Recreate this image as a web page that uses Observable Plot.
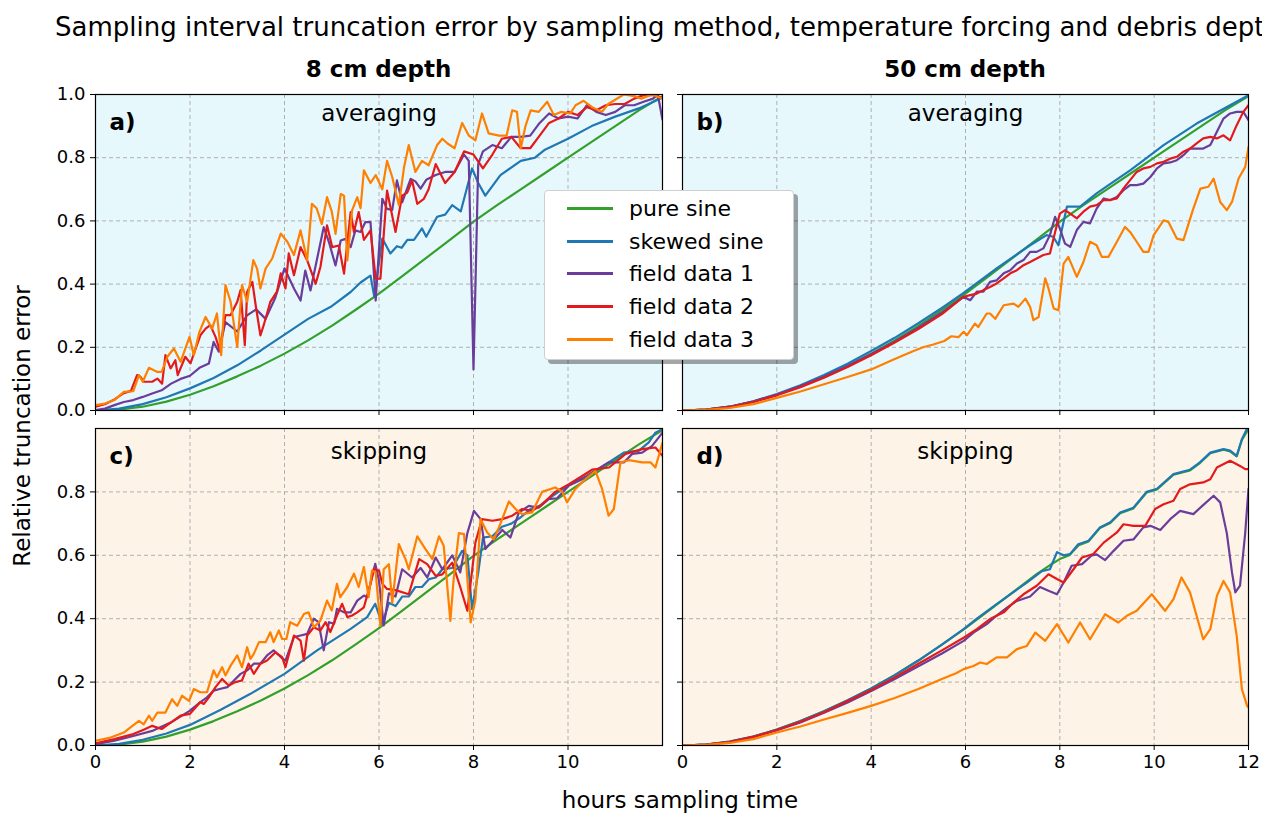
<!DOCTYPE html>
<html>
<head>
<meta charset="utf-8">
<script src="https://cdn.jsdelivr.net/npm/d3@7"></script>
<script src="https://cdn.jsdelivr.net/npm/@observablehq/plot@0.6"></script>
<style>
  html, body { margin: 0; padding: 0; background: #fff; }
  #fig { position: relative; width: 1262px; height: 814px; overflow: hidden; font-family: "DejaVu Sans", sans-serif; color: #000; }
  .abs { position: absolute; line-height: 1; white-space: nowrap; }
  .panel { position: absolute; }
  .panel svg { overflow: visible; }
  #legend { position: absolute; left: 544px; top: 190px; width: 250px; height: 170px; background: #fff;
            border: 1px solid #cfcfcf; border-radius: 4px; box-shadow: 4px 4px 0 rgba(0,0,0,0.35); z-index: 5; box-sizing: border-box; padding-top: 1px; }
  .lrow { display: flex; align-items: center; height: 32.8px; font-size: 22px; }
  .lline { width: 46px; height: 3px; margin-left: 22px; margin-right: 16px; }
</style>
</head>
<body>
<div id="fig"></div>
<script>
// ---------------- data ----------------
const seriesNames = ["pure sine", "skewed sine", "field data 1", "field data 2", "field data 3"];
const seriesColors = ["#33a02c", "#1f78b4", "#6a3d9a", "#e31a1c", "#ff7f00"];
const columnTitles = ["8 cm depth", "50 cm depth"];
const panelLabels = ["a)", "b)", "c)", "d)"];
const methodLabels = ["averaging", "averaging", "skipping", "skipping"];
const xTicksLeft = [0, 2, 4, 6, 8, 10];
const xTicksRight = [0, 2, 4, 6, 8, 10, 12];
const yTicksTop = [0, 0.2, 0.4, 0.6, 0.8, 1.0];
const yTicksBottom = [0, 0.2, 0.4, 0.6, 0.8];

// [hours, relative error]
const pure_sine = [[0,0],[0.5,0.003],[1,0.012],[1.5,0.028],[2,0.05],[2.5,0.077],[3,0.108],[3.5,0.142],[4,0.18],[4.5,0.222],[5,0.268],[5.5,0.318],[6,0.37],[6.5,0.426],[7,0.483],[7.5,0.54],[8,0.598],[8.5,0.65],[9,0.7],[9.5,0.75],[10,0.8],[10.5,0.85],[11,0.9],[11.5,0.95],[12,0.995]];
// in panel d the pure sine runs hidden under the skewed sine beyond ~8.4 h
const d_pure_sine = [[0,0],[0.5,0.003],[1,0.012],[1.5,0.028],[2,0.05],[2.5,0.077],[3,0.108],[3.5,0.142],[4,0.18],[4.5,0.222],[5,0.268],[5.5,0.318],[6,0.37],[6.5,0.426],[7,0.483],[7.5,0.54],[7.8,0.57],[8,0.588],[8.2,0.6],[8.4,0.632],[8.61,0.644],[8.85,0.686],[9.07,0.702],[9.28,0.733],[9.56,0.748],[9.84,0.798],[10.06,0.808],[10.41,0.854],[10.76,0.868],[10.97,0.891],[11.19,0.922],[11.47,0.933],[11.61,0.928],[11.75,0.912],[11.86,0.964],[12,0.998]];

// panel a: 8 cm, averaging
const a_skewed = [[0,0],[0.5,0.006],[1,0.02],[1.5,0.042],[2,0.07],[2.5,0.103],[3,0.143],[3.5,0.19],[4,0.24],[4.5,0.29],[5,0.33],[5.4,0.375],[5.61,0.405],[5.82,0.427],[5.9,0.36],[6.07,0.544],[6.24,0.497],[6.38,0.52],[6.48,0.515],[6.6,0.54],[6.74,0.54],[6.91,0.576],[7.0,0.55],[7.23,0.613],[7.4,0.62],[7.55,0.65],[7.73,0.63],[7.97,0.766],[8.1,0.72],[8.25,0.68],[8.57,0.745],[9,0.79],[9.3,0.8],[9.5,0.824],[10,0.86],[10.5,0.9],[11,0.93],[11.5,0.956],[12,0.99]];
const a_field1 = [[0,0.001],[0.2,0.006],[0.4,0.017],[0.6,0.027],[0.8,0.033],[1.0,0.043],[1.2,0.054],[1.4,0.064],[1.6,0.085],[1.8,0.1],[2.0,0.11],[2.2,0.135],[2.4,0.149],[2.5,0.217],[2.61,0.186],[2.75,0.28],[3.0,0.25],[3.2,0.3],[3.4,0.32],[3.6,0.29],[3.8,0.355],[4.0,0.45],[4.2,0.386],[4.34,0.348],[4.44,0.443],[4.55,0.38],[4.66,0.459],[4.83,0.58],[4.94,0.533],[5.08,0.459],[5.19,0.538],[5.29,0.543],[5.4,0.517],[5.5,0.57],[5.61,0.565],[5.71,0.596],[5.82,0.596],[5.93,0.348],[6.07,0.67],[6.17,0.638],[6.28,0.635],[6.38,0.728],[6.49,0.659],[6.67,0.733],[6.77,0.725],[6.88,0.702],[7.0,0.73],[7.2,0.745],[7.4,0.755],[7.6,0.755],[7.8,0.81],[7.9,0.79],[8.0,0.13],[8.1,0.78],[8.2,0.82],[8.4,0.84],[8.6,0.83],[8.8,0.866],[9.0,0.866],[9.2,0.87],[9.4,0.91],[9.6,0.94],[9.8,0.924],[10.0,0.93],[10.2,0.924],[10.4,0.966],[10.6,0.945],[10.8,0.935],[11.0,0.945],[11.2,0.966],[11.4,0.966],[11.6,0.977],[11.8,0.987],[11.9,1.0],[12,0.92]];
const a_field2 = [[0,0.012],[0.2,0.02],[0.4,0.035],[0.6,0.055],[0.75,0.062],[0.88,0.112],[0.95,0.107],[1.02,0.091],[1.2,0.091],[1.31,0.101],[1.41,0.085],[1.48,0.175],[1.59,0.133],[1.69,0.159],[1.74,0.112],[1.9,0.17],[2.01,0.149],[2.12,0.196],[2.22,0.238],[2.33,0.259],[2.43,0.27],[2.54,0.233],[2.63,0.191],[2.75,0.302],[2.86,0.302],[3.0,0.344],[3.07,0.381],[3.16,0.207],[3.21,0.376],[3.32,0.407],[3.39,0.333],[3.49,0.238],[3.56,0.27],[3.7,0.344],[3.84,0.376],[3.92,0.434],[4.02,0.386],[4.09,0.497],[4.2,0.428],[4.34,0.517],[4.48,0.475],[4.66,0.401],[4.76,0.454],[4.9,0.586],[5.01,0.517],[5.15,0.522],[5.26,0.433],[5.4,0.628],[5.47,0.565],[5.57,0.628],[5.68,0.54],[5.82,0.57],[5.93,0.417],[6.03,0.417],[6.17,0.696],[6.35,0.565],[6.49,0.68],[6.6,0.69],[6.7,0.728],[6.81,0.654],[6.95,0.67],[7.05,0.7],[7.2,0.78],[7.4,0.72],[7.6,0.755],[7.8,0.82],[8.0,0.81],[8.2,0.766],[8.4,0.81],[8.6,0.86],[8.8,0.866],[9.0,0.83],[9.2,0.83],[9.4,0.87],[9.6,0.91],[9.8,0.924],[10.0,0.945],[10.2,0.935],[10.4,0.96],[10.6,0.95],[10.8,0.966],[11.0,0.97],[11.2,0.97],[11.4,0.987],[11.6,0.998],[11.8,0.998],[12,0.99]];
const a_field3 = [[0,0.017],[0.2,0.022],[0.4,0.033],[0.6,0.059],[0.8,0.061],[0.92,0.112],[1.0,0.091],[1.13,0.135],[1.31,0.122],[1.4,0.122],[1.52,0.17],[1.66,0.196],[1.8,0.154],[1.99,0.233],[2.08,0.175],[2.2,0.249],[2.33,0.296],[2.47,0.259],[2.57,0.307],[2.66,0.175],[2.75,0.397],[2.86,0.344],[3.0,0.201],[3.1,0.397],[3.21,0.344],[3.34,0.476],[3.42,0.449],[3.49,0.386],[3.6,0.449],[3.74,0.481],[3.92,0.56],[4.06,0.534],[4.2,0.492],[4.34,0.57],[4.48,0.475],[4.58,0.654],[4.68,0.64],[4.79,0.59],[4.9,0.675],[5.0,0.63],[5.08,0.559],[5.19,0.685],[5.26,0.68],[5.33,0.475],[5.43,0.633],[5.54,0.675],[5.61,0.64],[5.68,0.76],[5.82,0.72],[5.93,0.745],[6.07,0.7],[6.17,0.79],[6.28,0.739],[6.42,0.65],[6.53,0.77],[6.63,0.84],[6.77,0.755],[6.91,0.79],[7.05,0.776],[7.23,0.84],[7.34,0.86],[7.45,0.845],[7.6,0.83],[7.76,0.91],[7.9,0.87],[8.04,0.855],[8.18,0.94],[8.32,0.877],[8.54,0.87],[8.7,0.87],[8.82,0.95],[8.92,0.945],[9.0,0.83],[9.1,0.9],[9.21,0.95],[9.38,0.945],[9.56,0.977],[9.7,0.935],[9.85,0.945],[10.05,0.94],[10.16,0.966],[10.33,0.98],[10.51,0.96],[10.72,0.945],[10.85,0.97],[11.18,1.0],[11.4,0.995],[11.55,0.987],[11.78,1.0],[12,0.987]];

// panel b: 50 cm, averaging
const b_skewed = [[0,0],[0.5,0.003],[1,0.012],[1.5,0.029],[2,0.052],[2.5,0.08],[3,0.112],[3.5,0.148],[4,0.188],[4.5,0.23],[5,0.276],[5.5,0.325],[5.96,0.372],[6.66,0.45],[7.37,0.523],[7.72,0.555],[7.86,0.55],[7.97,0.523],[8.15,0.645],[8.43,0.645],[8.78,0.687],[9.14,0.724],[9.49,0.76],[9.85,0.8],[10.2,0.84],[10.9,0.908],[11.61,0.966],[12,0.998]];
const b_field1 = [[0,0],[0.5,0.003],[1,0.012],[1.5,0.028],[2,0.05],[2.5,0.077],[3,0.107],[3.5,0.14],[4,0.178],[4.5,0.218],[5,0.262],[5.5,0.31],[5.96,0.36],[6.1,0.349],[6.24,0.376],[6.38,0.376],[6.52,0.407],[6.66,0.412],[6.81,0.434],[6.95,0.444],[7.09,0.465],[7.23,0.476],[7.37,0.502],[7.51,0.502],[7.65,0.513],[7.79,0.555],[7.9,0.613],[8.0,0.576],[8.11,0.528],[8.22,0.518],[8.36,0.571],[8.5,0.597],[8.64,0.592],[8.78,0.639],[8.93,0.671],[9.07,0.666],[9.21,0.676],[9.35,0.697],[9.49,0.713],[9.63,0.713],[9.77,0.718],[9.92,0.739],[10.06,0.766],[10.2,0.782],[10.34,0.785],[10.48,0.792],[10.62,0.808],[10.76,0.829],[10.9,0.829],[11.04,0.829],[11.19,0.84],[11.33,0.882],[11.47,0.924],[11.61,0.94],[11.75,0.945],[11.89,0.945],[12,0.919]];
const b_field2 = [[0,0],[0.5,0.003],[1,0.011],[1.5,0.027],[2,0.048],[2.5,0.074],[3,0.104],[3.5,0.138],[4,0.175],[4.5,0.215],[5,0.258],[5.5,0.305],[5.96,0.36],[6.1,0.365],[6.24,0.37],[6.38,0.381],[6.52,0.391],[6.66,0.402],[6.81,0.418],[6.95,0.434],[7.09,0.444],[7.23,0.46],[7.37,0.47],[7.51,0.481],[7.65,0.492],[7.79,0.497],[7.9,0.565],[8.0,0.623],[8.11,0.634],[8.22,0.623],[8.36,0.608],[8.5,0.629],[8.64,0.645],[8.78,0.65],[8.93,0.666],[9.07,0.666],[9.21,0.671],[9.35,0.703],[9.49,0.729],[9.63,0.755],[9.77,0.766],[9.92,0.771],[10.06,0.782],[10.2,0.787],[10.34,0.797],[10.48,0.803],[10.62,0.819],[10.76,0.829],[10.9,0.845],[11.04,0.861],[11.19,0.866],[11.33,0.861],[11.47,0.871],[11.61,0.855],[11.75,0.903],[11.89,0.945],[12,0.966]];
const b_field3 = [[0,0],[0.5,0.002],[1,0.008],[1.5,0.02],[2,0.04],[2.5,0.06],[3,0.083],[3.5,0.106],[4,0.13],[4.5,0.163],[4.86,0.186],[5.1,0.2],[5.3,0.208],[5.55,0.22],[5.7,0.235],[5.85,0.232],[5.96,0.249],[6.03,0.238],[6.2,0.275],[6.27,0.264],[6.45,0.307],[6.52,0.307],[6.63,0.29],[6.81,0.333],[7.02,0.338],[7.12,0.328],[7.27,0.354],[7.37,0.328],[7.44,0.286],[7.55,0.296],[7.69,0.418],[7.76,0.386],[7.87,0.323],[7.97,0.317],[8.08,0.465],[8.18,0.486],[8.36,0.423],[8.5,0.47],[8.64,0.534],[8.78,0.523],[8.89,0.486],[9.03,0.486],[9.21,0.534],[9.38,0.581],[9.49,0.565],[9.63,0.534],[9.77,0.502],[9.88,0.502],[9.99,0.555],[10.2,0.602],[10.3,0.597],[10.48,0.544],[10.62,0.539],[10.83,0.639],[10.98,0.702],[11.15,0.708],[11.26,0.734],[11.4,0.66],[11.54,0.634],[11.65,0.66],[11.79,0.734],[11.93,0.771],[12,0.834]];

// panel c: 8 cm, skipping
const c_skewed = [[0,0],[0.5,0.005],[1,0.018],[1.5,0.038],[2,0.065],[2.65,0.113],[3.28,0.163],[4,0.226],[4.69,0.3],[5.4,0.368],[5.75,0.405],[5.92,0.447],[6.07,0.383],[6.21,0.45],[6.35,0.44],[6.49,0.47],[6.63,0.47],[6.77,0.5],[6.91,0.5],[7.06,0.525],[7.2,0.53],[7.34,0.556],[7.55,0.56],[7.76,0.614],[7.87,0.6],[7.97,0.43],[8.1,0.545],[8.2,0.656],[8.4,0.66],[8.6,0.69],[8.8,0.7],[9.0,0.72],[9.2,0.745],[9.4,0.756],[9.6,0.78],[9.8,0.8],[10,0.82],[10.4,0.85],[10.86,0.893],[11.18,0.924],[11.5,0.93],[11.71,0.956],[11.85,0.987],[12,0.998]];
const c_field1 = [[0,0.004],[0.4,0.015],[0.8,0.03],[1.2,0.046],[1.6,0.073],[2.0,0.11],[2.22,0.137],[2.36,0.152],[2.5,0.173],[2.65,0.179],[2.79,0.184],[2.93,0.205],[3.07,0.226],[3.21,0.237],[3.35,0.258],[3.49,0.258],[3.63,0.284],[3.77,0.3],[3.92,0.279],[4.02,0.268],[4.2,0.342],[4.34,0.347],[4.48,0.352],[4.62,0.4],[4.72,0.389],[4.83,0.3],[4.94,0.389],[5.05,0.384],[5.11,0.431],[5.26,0.42],[5.4,0.42],[5.54,0.457],[5.68,0.473],[5.75,0.468],[5.92,0.573],[6.0,0.52],[6.1,0.379],[6.21,0.48],[6.35,0.47],[6.49,0.556],[6.7,0.53],[6.88,0.56],[7.02,0.53],[7.2,0.593],[7.34,0.556],[7.55,0.6],[7.72,0.546],[7.87,0.67],[8.01,0.74],[8.15,0.714],[8.25,0.62],[8.43,0.65],[8.61,0.68],[8.78,0.656],[8.96,0.735],[9.17,0.756],[9.38,0.75],[9.59,0.777],[9.77,0.78],[10.02,0.82],[10.3,0.84],[10.51,0.86],[10.86,0.893],[11.18,0.893],[11.36,0.92],[11.57,0.924],[11.78,0.945],[12,0.987]];
const c_field2 = [[0,0.007],[0.4,0.02],[0.8,0.036],[1.02,0.05],[1.2,0.062],[1.4,0.052],[1.6,0.073],[1.8,0.094],[2.0,0.1],[2.22,0.137],[2.29,0.131],[2.4,0.152],[2.54,0.184],[2.68,0.21],[2.82,0.189],[2.96,0.2],[3.1,0.205],[3.24,0.258],[3.35,0.226],[3.49,0.258],[3.63,0.268],[3.81,0.294],[3.95,0.279],[4.02,0.247],[4.2,0.347],[4.34,0.331],[4.41,0.268],[4.48,0.347],[4.62,0.373],[4.76,0.363],[4.87,0.389],[4.97,0.358],[5.11,0.41],[5.22,0.447],[5.33,0.405],[5.43,0.41],[5.54,0.42],[5.68,0.436],[5.82,0.51],[5.89,0.557],[6.0,0.552],[6.07,0.51],[6.17,0.494],[6.35,0.49],[6.63,0.477],[6.85,0.588],[7.02,0.572],[7.2,0.535],[7.34,0.54],[7.55,0.577],[7.72,0.5],[7.87,0.425],[8.04,0.64],[8.18,0.714],[8.4,0.709],[8.61,0.714],[8.82,0.725],[9.03,0.746],[9.24,0.74],[9.45,0.76],[9.73,0.8],[10.02,0.824],[10.3,0.85],[10.51,0.87],[10.87,0.877],[11.22,0.92],[11.57,0.935],[11.85,0.94],[12,0.914]];
const c_field3 = [[0,0.015],[0.32,0.025],[0.6,0.041],[0.74,0.057],[0.92,0.078],[1.02,0.067],[1.13,0.094],[1.2,0.078],[1.31,0.104],[1.48,0.104],[1.62,0.146],[1.73,0.125],[1.83,0.157],[1.98,0.141],[2.08,0.178],[2.22,0.168],[2.36,0.168],[2.5,0.237],[2.57,0.215],[2.68,0.247],[2.75,0.221],[2.86,0.252],[3.0,0.284],[3.1,0.247],[3.21,0.31],[3.28,0.273],[3.35,0.289],[3.46,0.326],[3.6,0.326],[3.7,0.357],[3.77,0.326],[3.88,0.363],[3.95,0.336],[4.04,0.336],[4.12,0.389],[4.27,0.378],[4.41,0.415],[4.51,0.42],[4.62,0.373],[4.76,0.394],[4.9,0.457],[5.0,0.426],[5.11,0.51],[5.18,0.468],[5.33,0.5],[5.47,0.542],[5.57,0.5],[5.68,0.563],[5.78,0.468],[5.85,0.552],[5.93,0.546],[6.03,0.377],[6.1,0.556],[6.21,0.572],[6.28,0.45],[6.42,0.635],[6.56,0.588],[6.63,0.556],[6.81,0.66],[6.98,0.62],[7.13,0.588],[7.27,0.66],[7.37,0.63],[7.51,0.393],[7.58,0.525],[7.69,0.67],[7.8,0.667],[7.94,0.388],[8.04,0.46],[8.15,0.714],[8.29,0.672],[8.43,0.65],[8.57,0.7],[8.75,0.77],[8.89,0.746],[9.03,0.73],[9.24,0.735],[9.45,0.8],[9.73,0.814],[9.88,0.8],[9.98,0.767],[10.16,0.81],[10.37,0.84],[10.58,0.866],[10.72,0.81],[10.86,0.725],[10.97,0.746],[11.11,0.893],[11.29,0.9],[11.57,0.893],[11.75,0.893],[11.85,0.877],[12,0.955]];

// panel d: 50 cm, skipping
const d_skewed = [[0,0],[0.5,0.003],[1,0.012],[1.5,0.028],[2,0.05],[2.5,0.077],[3,0.108],[3.5,0.143],[4,0.18],[4.5,0.222],[5,0.268],[5.5,0.318],[5.96,0.367],[6.24,0.4],[6.66,0.446],[6.95,0.477],[7.3,0.514],[7.62,0.55],[7.79,0.556],[7.94,0.61],[8.08,0.6],[8.22,0.604],[8.39,0.635],[8.61,0.646],[8.85,0.688],[9.07,0.704],[9.28,0.735],[9.56,0.75],[9.84,0.8],[10.06,0.81],[10.41,0.856],[10.76,0.87],[10.97,0.893],[11.19,0.924],[11.47,0.935],[11.61,0.93],[11.75,0.914],[11.86,0.966],[11.97,1.0],[12,1.0]];
const d_field1 = [[0,0],[0.5,0.003],[1,0.011],[1.5,0.027],[2,0.048],[2.5,0.073],[3,0.103],[3.5,0.136],[4,0.172],[4.5,0.21],[5,0.25],[5.5,0.29],[5.96,0.33],[6.17,0.356],[6.45,0.383],[6.66,0.41],[6.88,0.435],[7.09,0.456],[7.37,0.47],[7.58,0.5],[7.76,0.488],[7.94,0.477],[8.08,0.514],[8.25,0.567],[8.47,0.572],[8.68,0.6],[8.78,0.603],[8.96,0.585],[9.14,0.614],[9.35,0.646],[9.56,0.65],[9.77,0.688],[9.92,0.693],[10.13,0.68],[10.34,0.714],[10.55,0.74],[10.83,0.73],[11.05,0.76],[11.26,0.788],[11.4,0.767],[11.54,0.67],[11.65,0.546],[11.72,0.483],[11.82,0.504],[11.93,0.67],[12,0.81]];
const d_field2 = [[0,0],[0.5,0.003],[1,0.011],[1.5,0.027],[2,0.049],[2.5,0.075],[3,0.105],[3.5,0.14],[4,0.175],[4.5,0.215],[5,0.258],[5.5,0.3],[5.96,0.34],[6.24,0.367],[6.52,0.399],[6.81,0.42],[7.02,0.451],[7.23,0.477],[7.51,0.504],[7.76,0.54],[7.94,0.525],[8.08,0.514],[8.29,0.556],[8.47,0.593],[8.71,0.604],[8.93,0.64],[9.21,0.672],[9.35,0.698],[9.56,0.693],[9.81,0.693],[10.02,0.746],[10.2,0.761],[10.41,0.772],[10.55,0.809],[10.76,0.824],[11.04,0.83],[11.19,0.84],[11.33,0.877],[11.61,0.898],[11.82,0.882],[11.93,0.872],[12,0.872]];
const d_field3 = [[0,0],[0.5,0.002],[1,0.008],[1.5,0.02],[2,0.041],[2.5,0.06],[3,0.082],[3.5,0.103],[4,0.125],[4.5,0.15],[5,0.178],[5.5,0.21],[5.8,0.228],[5.96,0.241],[6.17,0.251],[6.31,0.262],[6.45,0.257],[6.66,0.278],[6.88,0.278],[7.09,0.304],[7.3,0.314],[7.48,0.356],[7.69,0.33],[7.94,0.383],[8.18,0.325],[8.43,0.388],[8.64,0.335],[8.96,0.414],[9.24,0.388],[9.42,0.409],[9.63,0.425],[9.95,0.477],[10.23,0.425],[10.41,0.462],[10.58,0.53],[10.76,0.483],[11.04,0.335],[11.19,0.367],[11.33,0.472],[11.47,0.519],[11.61,0.483],[11.75,0.346],[11.86,0.178],[11.97,0.125],[12,0.12]];

// ---------------- layout ----------------
const fig = document.getElementById("fig");
const FONT = "DejaVu Sans";

function addText(txt, style) {
  const d = document.createElement("div");
  d.className = "abs";
  d.textContent = txt;
  Object.assign(d.style, style);
  fig.appendChild(d);
  return d;
}

addText("Sampling interval truncation error by sampling method, temperature forcing and debris depth",
  {left: "55px", top: "14px", fontSize: "26px"});

const frames = [
  {left: 95, top: 94, w: 567, h: 316, col: 0, row: 0},
  {left: 682, top: 94, w: 566, h: 316, col: 1, row: 0},
  {left: 95, top: 428, w: 567, h: 317, col: 0, row: 1},
  {left: 682, top: 428, w: 566, h: 317, col: 1, row: 1}
];
const panelData = [
  [pure_sine, a_skewed, a_field1, a_field2, a_field3],
  [pure_sine, b_skewed, b_field1, b_field2, b_field3],
  [pure_sine, c_skewed, c_field1, c_field2, c_field3],
  [d_pure_sine, d_skewed, d_field1, d_field2, d_field3]
];
const bgColors = ["#e7f8fd", "#e7f8fd", "#fdf4e7", "#fdf4e7"];

columnTitles.forEach((t, i) => {
  const f = frames[i];
  addText(t, {left: (f.left + f.w / 2) + "px", top: "58px", fontSize: "23px", fontWeight: "bold", transform: "translateX(-50%)"});
});

frames.forEach((f, i) => {
  const leftCol = f.col === 0, bottomRow = f.row === 1;
  const ml = leftCol ? 70 : 10, mr = 4, mt = 4, mb = bottomRow ? 40 : 10;
  const xt = leftCol ? xTicksLeft : xTicksRight;
  const yt = bottomRow ? yTicksBottom : yTicksTop;
  const gridX = xt.filter(v => v > 0 && v < 12);
  const gridY = yt.filter(v => v > 0 && v < 1);
  const lines = panelData[i].map((arr, k) =>
    Plot.line(arr, {x: d => d[0], y: d => d[1], stroke: seriesColors[k], strokeWidth: 2.2, clip: true}));
  const methodDy = f.row === 0 ? 18.7 : 23;
  const chart = Plot.plot({
    width: ml + f.w + mr,
    height: mt + f.h + mb,
    marginLeft: ml, marginRight: mr, marginTop: mt, marginBottom: mb,
    style: {background: "transparent", fontFamily: FONT, fontSize: "18px", color: "#000", overflow: "visible"},
    x: {domain: [0, 12]},
    y: {domain: [0, 1]},
    marks: [
      Plot.frame({fill: bgColors[i], stroke: null}),
      Plot.gridX(gridX, {stroke: "#b0b0b0", strokeOpacity: 1, strokeWidth: 1, strokeDasharray: "4,3"}),
      Plot.gridY(gridY, {stroke: "#b0b0b0", strokeOpacity: 1, strokeWidth: 1, strokeDasharray: "4,3"}),
      ...lines,
      Plot.frame({stroke: "#000", strokeWidth: 1.2}),
      Plot.axisX(xt, {tickSize: 5, tickPadding: 5, label: null, fontSize: 18,
        tickFormat: bottomRow ? (d => String(d)) : (() => "")}),
      Plot.axisY(yt, {tickSize: 5, tickPadding: 5, label: null, fontSize: 18,
        tickFormat: leftCol ? d3.format(".1f") : (() => "")}),
      Plot.text([panelLabels[i]], {text: d => d, frameAnchor: "top-left", dx: 14, dy: 28, lineAnchor: "middle",
        textAnchor: "start", fontSize: 23, fontWeight: "bold", fill: "#000"}),
      Plot.text([methodLabels[i]], {text: d => d, frameAnchor: "top", dy: methodDy, lineAnchor: "middle",
        fontSize: 23, fill: "#000"})
    ]
  });
  const wrap = document.createElement("div");
  wrap.className = "panel";
  wrap.style.left = (f.left - ml) + "px";
  wrap.style.top = (f.top - mt) + "px";
  wrap.appendChild(chart);
  fig.appendChild(wrap);
});

// axis labels
addText("hours sampling time", {left: "680px", top: "789px", fontSize: "23px", transform: "translateX(-50%)"});
addText("Relative truncation error", {left: "22px", top: "426px", fontSize: "23px",
  transform: "translate(-50%, -50%) rotate(-90deg)"});

// legend
const legend = document.createElement("div");
legend.id = "legend";
seriesNames.forEach((n, k) => {
  const row = document.createElement("div");
  row.className = "lrow";
  const ln = document.createElement("div");
  ln.className = "lline";
  ln.style.background = seriesColors[k];
  const tx = document.createElement("span");
  tx.textContent = n;
  row.appendChild(ln);
  row.appendChild(tx);
  legend.appendChild(row);
});
fig.appendChild(legend);
</script>
</body>
</html>
